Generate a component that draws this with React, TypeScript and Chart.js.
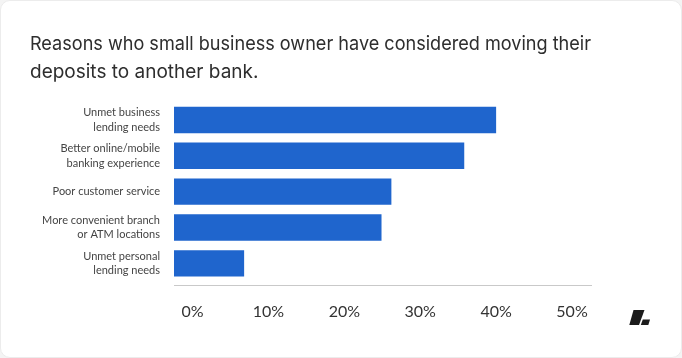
import React, { useEffect, useRef } from "react";
import { Chart, registerables } from "chart.js";

Chart.register(...registerables);

const TITLE_LINES = [
  "Reasons who small business owner have considered moving their",
  "deposits to another bank.",
];

const CATEGORIES: string[][] = [
  ["Unmet business", "lending needs"],
  ["Better online/mobile", "banking experience"],
  ["Poor customer service"],
  ["More convenient branch", "or ATM locations"],
  ["Unmet personal", "lending needs"],
];

const VALUES = [40.0, 35.8, 26.2, 24.9, 6.8];

const TICK_VALUES = [0, 10, 20, 30, 40, 50];

const X_MIN = -2.44;
const X_MAX = 52.5;

const FONT = "Lato, 'Open Sans', sans-serif";
const TITLE_FONT = "Inter, 'Open Sans', sans-serif";
const BAR_COLOR = "#1f65cd";

export default function App() {
  const canvasRef = useRef<HTMLCanvasElement | null>(null);

  useEffect(() => {
    if (!canvasRef.current) return;
    const chart = new Chart(canvasRef.current, {
      type: "bar",
      data: {
        labels: CATEGORIES,
        datasets: [
          {
            data: VALUES,
            backgroundColor: BAR_COLOR,
            borderWidth: 0,
            base: X_MIN,
            xAxisID: "x",
            yAxisID: "y",
            barPercentage: 0.92,
            categoryPercentage: 0.8,
          } as any,
        ],
      },
      options: {
        indexAxis: "y",
        animation: false,
        responsive: false,
        maintainAspectRatio: false,
        events: [],
        layout: { padding: { top: 30, left: 30, right: 91, bottom: 21 } },
        plugins: {
          legend: { display: false },
          tooltip: { enabled: false },
          title: {
            display: true,
            text: TITLE_LINES,
            align: "start",
            color: "#2e2e2e",
            font: { family: TITLE_FONT, size: 19, weight: "normal", lineHeight: 28 / 19 },
            padding: { top: 0, bottom: 16 },
          },
        },
        scales: {
          y: {
            type: "category",
            position: "left",
            grid: { display: false, drawTicks: false },
            border: { display: false },
            ticks: {
              color: "#444",
              font: { family: FONT, size: 11, lineHeight: 1.33 },
              padding: 14,
            },
            afterFit: (s: any) => {
              s.width = 144;
            },
          },
          x: {
            type: "linear",
            position: "bottom",
            min: X_MIN,
            max: X_MAX,
            grid: { display: false, drawTicks: false },
            border: { display: false },
            ticks: { display: false },
            afterFit: (s: any) => {
              s.height = 4.5;
            },
          },
          x2: {
            type: "linear",
            position: "bottom",
            min: X_MIN,
            max: X_MAX,
            grid: { display: false, drawTicks: false },
            border: { display: true, color: "#c9c9c9", width: 1 },
            afterBuildTicks: (s: any) => {
              s.ticks = TICK_VALUES.map((v) => ({ value: v }));
            },
            ticks: {
              color: "#333",
              font: { family: FONT, size: 16 },
              padding: 16,
              maxRotation: 0,
              autoSkip: false,
              callback: (v: any) => `${v}%`,
            },
          },
        },
      } as any,
    });
    return () => chart.destroy();
  }, []);

  return (
    <div
      style={{
        position: "fixed",
        left: 0,
        top: 0,
        width: 682,
        height: 358,
        background: "#f4f4f4",
      }}
    >
      <div
        style={{
          position: "absolute",
          left: 0,
          top: 0,
          width: 680,
          height: 356,
          background: "#ffffff",
          border: "1px solid #ececec",
          borderRadius: 10,
        }}
      />
      <canvas
        ref={canvasRef}
        width={682}
        height={358}
        style={{ position: "absolute", left: 0, top: 0, width: 682, height: 358 }}
      />
      <svg
        width={682}
        height={358}
        style={{ position: "absolute", left: 0, top: 0, pointerEvents: "none" }}
      >
        <polygon points="633.5,310 644.5,310 639,325 629.3,325" fill="#1b1b1b" />
        <polygon points="642.8,319.5 650,319.5 648.3,325 640.8,325" fill="#1b1b1b" />
      </svg>
    </div>
  );
}
